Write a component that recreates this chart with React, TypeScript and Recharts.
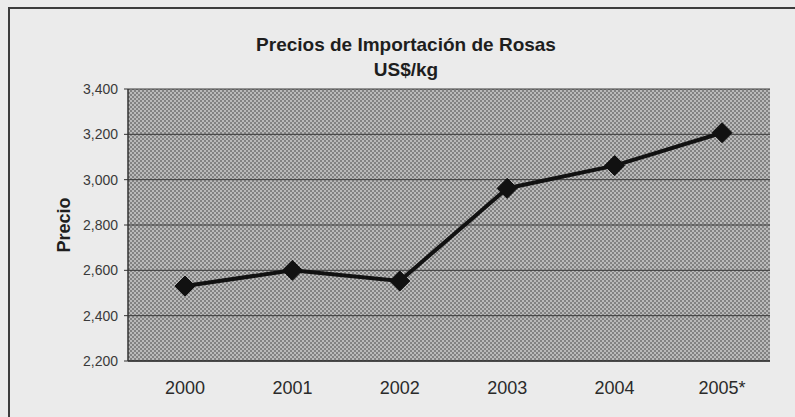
import { CartesianGrid, Label, Line, LineChart, XAxis, YAxis } from "recharts";

const years = ["2000", "2001", "2002", "2003", "2004", "2005*"];
const prices = [2531, 2600, 2553, 2962, 3062, 3207];
const priceTicks = [2200, 2400, 2600, 2800, 3000, 3200, 3400];

const chartData = years.map((year, i) => ({ year, price: prices[i] }));

const font = "'Liberation Sans', Arial, sans-serif";

function Diamond(props: { cx?: number; cy?: number; index?: number }) {
  const { cx, cy } = props;
  if (cx == null || cy == null) return null;
  const r = 10;
  return (
    <path
      d={`M${cx},${cy - r} L${cx + r},${cy} L${cx},${cy + r} L${cx - r},${cy} Z`}
      fill="#111"
      stroke="#111"
      strokeWidth={1}
    />
  );
}

export default function App() {
  return (
    <div
      style={{
        position: "absolute",
        left: 0,
        top: 0,
        width: 795,
        height: 417,
        overflow: "hidden",
        background: "#ebebeb",
        fontFamily: font
      }}
    >
      <div
        style={{
          position: "absolute",
          left: 8,
          top: 7,
          width: 820,
          height: 430,
          borderLeft: "2px solid #3c3c3c",
          borderTop: "2px solid #3c3c3c"
        }}
      />
      <div
        style={{
          position: "absolute",
          left: 406,
          top: 32,
          transform: "translateX(-50%)",
          textAlign: "center",
          fontWeight: "bold",
          fontSize: 19,
          lineHeight: "25px",
          color: "#1e1e1e",
          whiteSpace: "nowrap"
        }}
      >
        <div>Precios de Importación de Rosas</div>
        <div>US$/kg</div>
      </div>
      <div style={{ position: "absolute", left: 0, top: 0 }}>
        <LineChart
          width={795}
          height={417}
          data={chartData}
          margin={{ top: 89, right: 25, bottom: 0, left: 0 }}
        >
          <defs>
            <pattern id="dots" width="4" height="4" patternUnits="userSpaceOnUse">
              <rect x="0" y="0" width="4" height="4" fill="#bababa" />
              <rect x="0" y="0" width="2" height="2" fill="#828282" />
              <rect x="2" y="2" width="2" height="2" fill="#828282" />
            </pattern>
          </defs>
          <CartesianGrid
            vertical={false}
            stroke="#3a3a3a"
            strokeWidth={1}
            fill="url(#dots)"
            fillOpacity={1}
          />
          <XAxis
            dataKey="year"
            height={56}
            padding={{ left: 57, right: 48 }}
            axisLine={{ stroke: "#333", strokeWidth: 1.5 }}
            tickLine={false}
            tickSize={0}
            tickMargin={20}
            tick={{ fill: "#2a2a2a", fontSize: 18, fontFamily: font }}
            interval={0}
          />
          <YAxis
            width={128}
            domain={[2200, 3400]}
            ticks={priceTicks}
            interval={0}
            tickFormatter={(v: number) => v.toLocaleString("en-US")}
            axisLine={{ stroke: "#333", strokeWidth: 1.5 }}
            tickLine={{ stroke: "#333" }}
            tickSize={4}
            tickMargin={6}
            tick={{ fill: "#3a3a3a", fontSize: 14, fontFamily: font }}
          >
            <Label
              value="Precio"
              angle={-90}
              position="center"
              style={{ fontWeight: "bold", fontSize: 18, fill: "#1e1e1e", fontFamily: font }}
            />
          </YAxis>
          <Line
            type="linear"
            dataKey="price"
            stroke="#111"
            strokeWidth={4}
            dot={<Diamond />}
            activeDot={false}
            isAnimationActive={false}
          />
        </LineChart>
      </div>
    </div>
  );
}
